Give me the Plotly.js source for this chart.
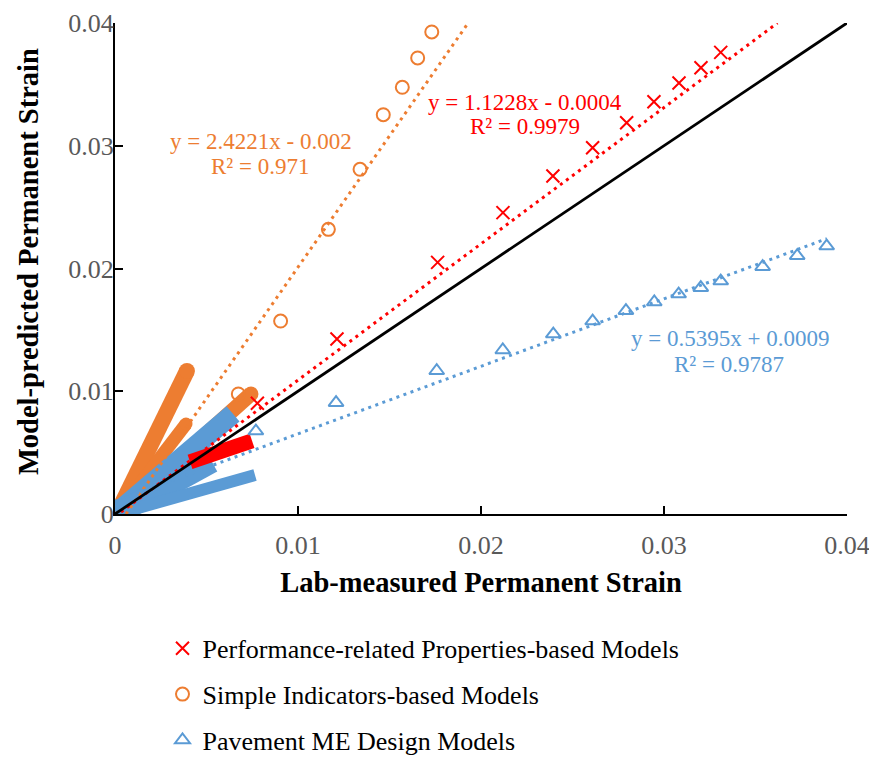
<!DOCTYPE html>
<html>
<head>
<meta charset="utf-8">
<script src="https://cdn.plot.ly/plotly-3.0.1.min.js"></script>
<style>html,body{margin:0;padding:0;background:#fff;}#chart{width:869px;height:757px;}</style>
</head>
<body>
<div id="chart"></div>
<script>
// Performance-related Properties-based Models (red x)
const redX = [0.00778, 0.01213, 0.01763, 0.02120, 0.02393, 0.02610, 0.02796, 0.02945, 0.03082, 0.03202, 0.03310];
const redY = [0.00902, 0.01426, 0.02050, 0.02455, 0.02754, 0.02984, 0.03188, 0.03359, 0.03511, 0.03636, 0.03761];
// Simple Indicators-based Models (orange circles)
const orangeX = [0.00674, 0.00905, 0.01166, 0.01339, 0.01466, 0.01570, 0.01654, 0.01731];
const orangeY = [0.00978, 0.01572, 0.02319, 0.02808, 0.03253, 0.03476, 0.03715, 0.03927];
// Pavement ME Design Models (blue triangles)
const blueX = [0.00770, 0.01208, 0.01758, 0.02119, 0.02395, 0.02610, 0.02792, 0.02947, 0.03080, 0.03201, 0.03310, 0.03539, 0.03728, 0.03889];
const blueY = [0.00676, 0.00907, 0.01167, 0.01336, 0.01466, 0.01572, 0.01656, 0.01727, 0.01792, 0.01844, 0.01898, 0.02015, 0.02104, 0.02183];

// dense low-strain clusters (streaks of overlapping markers): start/end points
const orangeStreakX = [[0.0002, 0.00393], [0.0002, 0.00388], [0.0002, 0.00743]];
const orangeStreakY = [[0.0003, 0.01165], [0.0002, 0.00733], [0.0001, 0.00978]];
const blueStreakX = [[0.0001, 0.00645], [0.0001, 0.00530], [0.0001, 0.00765]];
const blueStreakY = [[0.0001, 0.00815], [0.0000, 0.00424], [0.0000, 0.00318]];
const redStreakX = [[0.0041, 0.00749]];
const redStreakY = [[0.00424, 0.00595]];

// linear trendlines as drawn (end points)
const orangeTrendX = [0.0006, 0.0193];
const orangeTrendY = [0.0000, 0.0400];
const redTrendX = [0.0000, 0.0362];
const redTrendY = [-0.0002, 0.0400];
const blueTrendX = [0.0000, 0.0389];
const blueTrendY = [0.00103, 0.02243];
// line of equality
const equalX = [0, 0.04];
const equalY = [0, 0.04];

const tickVals = [0, 0.01, 0.02, 0.03, 0.04];
const tickText = ['0', '0.01', '0.02', '0.03', '0.04'];

const RED = '#FF0000', ORANGE = '#ED7D31', BLUE = '#5B9BD5';
const FONT = 'Liberation Serif';

const traces = [];
function streaks(xs, ys, color, widths, capped) {
  xs.forEach((x, i) => {
    traces.push({
      x: x, y: ys[i], type: 'scatter', mode: capped ? 'lines+markers' : 'lines',
      line: {color: color, width: widths[i]},
      marker: {color: color, size: widths[i], symbol: 'circle'},
      showlegend: false, hoverinfo: 'skip'
    });
  });
}
streaks(orangeStreakX, orangeStreakY, ORANGE, [16, 13, 15], true);
streaks(blueStreakX, blueStreakY, BLUE, [20, 22, 12], false);
streaks(redStreakX, redStreakY, RED, [15], false);

traces.push({
  x: redX, y: redY, type: 'scatter', mode: 'markers', name: 'Performance-related Properties-based Models',
  legendgroup: 'r',
  marker: {symbol: 'x-thin', size: 13, color: RED, line: {color: RED, width: 2}}
});
traces.push({
  x: orangeX, y: orangeY, type: 'scatter', mode: 'markers', name: 'Simple Indicators-based Models',
  legendgroup: 'o',
  marker: {symbol: 'circle-open', size: 13, color: ORANGE, line: {color: ORANGE, width: 2}}
});
traces.push({
  x: blueX, y: blueY, type: 'scatter', mode: 'markers', name: 'Pavement ME Design Models',
  legendgroup: 'b',
  marker: {symbol: 'triangle-up-open', size: 13, color: BLUE, line: {color: BLUE, width: 2}}
});

function trend(x, y, color) {
  traces.push({x: x, y: y, type: 'scatter', mode: 'lines',
    line: {color: color, width: 3, dash: '3px,4.5px'}, showlegend: false, hoverinfo: 'skip'});
}
trend(orangeTrendX, orangeTrendY, ORANGE);
trend(redTrendX, redTrendY, RED);
trend(blueTrendX, blueTrendY, BLUE);

traces.push({x: equalX, y: equalY, type: 'scatter', mode: 'lines',
  line: {color: '#000000', width: 2.8}, showlegend: false, hoverinfo: 'skip'});

function ann(x, y, text, color) {
  return {x: x, y: y, xref: 'x', yref: 'y', text: text, showarrow: false,
    xanchor: 'center', yanchor: 'middle', font: {family: FONT, size: 23, color: color}};
}

const layout = {
  width: 869, height: 757,
  margin: {l: 115, r: 22, t: 23, b: 243, autoexpand: false},
  paper_bgcolor: '#ffffff', plot_bgcolor: '#ffffff',
  font: {family: FONT, color: '#000'},
  showlegend: true,
  xaxis: {
    range: [0, 0.04], tickvals: tickVals, ticktext: tickText,
    showgrid: false, zeroline: false, showline: true, linecolor: '#000', linewidth: 2,
    ticks: 'inside', ticklen: 8, tickwidth: 2, tickcolor: '#000',
    tickfont: {family: FONT, size: 26, color: '#595959'}, ticklabelstandoff: 7,
    ticklabeloverflow: 'allow',
    title: {text: '<b>Lab-measured Permanent Strain</b>', font: {family: FONT, size: 28.5, color: '#000'}, standoff: 13},
    automargin: false, fixedrange: true
  },
  yaxis: {
    range: [0, 0.04], tickvals: tickVals, ticktext: tickText,
    showgrid: false, zeroline: false, showline: true, linecolor: '#000', linewidth: 2,
    ticks: 'inside', ticklen: 8, tickwidth: 2, tickcolor: '#000',
    tickfont: {family: FONT, size: 26, color: '#595959'}, ticklabelstandoff: -6,
    ticklabeloverflow: 'allow',
    automargin: false, fixedrange: true
  },
  legend: {
    xref: 'container', yref: 'container',
    x: 0.187, xanchor: 'left', y: 0.1745, yanchor: 'top',
    font: {family: FONT, size: 26, color: '#000'},
    traceorder: 'grouped', tracegroupgap: 9, bgcolor: 'rgba(0,0,0,0)', borderwidth: 0
  },
  annotations: [
    ann(0.00798, 0.03031, 'y = 2.4221x - 0.002', ORANGE),
    ann(0.00792, 0.02827, 'R² = 0.971', ORANGE),
    ann(0.02240, 0.03356, 'y = 1.1228x - 0.0004', RED),
    ann(0.02240, 0.03153, 'R² = 0.9979', RED),
    ann(0.03361, 0.01426, 'y = 0.5395x + 0.0009', BLUE),
    ann(0.03355, 0.01214, 'R² = 0.9787', BLUE),
    {x: -0.1189, y: 0.515, xref: 'paper', yref: 'paper', text: '<b>Model-predicted Permanent Strain</b>',
     showarrow: false, textangle: -90, xanchor: 'center', yanchor: 'middle',
     font: {family: FONT, size: 28.5, color: '#000'}}
  ]
};

Plotly.newPlot('chart', traces, layout, {displayModeBar: false, staticPlot: true});
</script>
</body>
</html>
